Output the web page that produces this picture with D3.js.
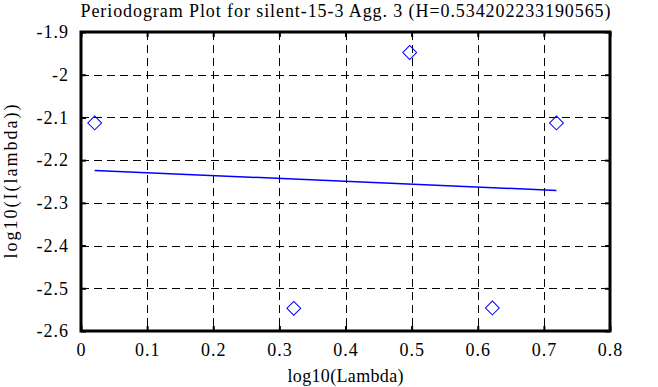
<!DOCTYPE html>
<html><head><meta charset="utf-8">
<script src="https://cdn.jsdelivr.net/npm/d3@7"></script>
<style>
body{margin:0;background:#fff;}
svg text{font-family:"Liberation Serif","Times New Roman",serif !important;fill:#000;}
</style></head>
<body><svg id="c" width="658" height="387"></svg>
<script>
const title = "Periodogram Plot for silent-15-3 Agg. 3 (H=0.534202233190565)";
const xLabel = "log10(Lambda)";
const yLabel = "log10(I(lambda))";
const pointX = [0.0207, 0.3218, 0.4971, 0.6221, 0.7190];
const pointY = [-2.113, -2.547, -1.948, -2.546, -2.113];
const fitX = [0.0207, 0.7190];
const fitY = [-2.224, -2.271];
const xTicks = [0, 0.1, 0.2, 0.3, 0.4, 0.5, 0.6, 0.7, 0.8];
const yTicks = [-1.9, -2, -2.1, -2.2, -2.3, -2.4, -2.5, -2.6];

const svg = d3.select("#c");
const L = 81, R = 610, T = 32, B = 331;
const x = d3.scaleLinear().domain([0, 0.8]).range([L, R]);
const y = d3.scaleLinear().domain([-2.6, -1.9]).range([B, T]);

// grid
const g = svg.append("g");
g.selectAll("line.gx").data(xTicks.slice(1, -1)).enter().append("line")
  .attr("x1", d => Math.round(x(d)) + 0.5).attr("x2", d => Math.round(x(d)) + 0.5)
  .attr("y1", T).attr("y2", B).attr("stroke", "#000").attr("stroke-dasharray", "8,5");
g.selectAll("line.gy").data(yTicks.slice(1, -1)).enter().append("line")
  .attr("y1", d => Math.round(y(d)) + 0.5).attr("y2", d => Math.round(y(d)) + 0.5)
  .attr("x1", L).attr("x2", R).attr("stroke", "#000").attr("stroke-dasharray", "8,5");

// axes with inward ticks
const fmt = d => String(+d.toFixed(1));
const ax = svg.append("g").attr("transform", `translate(0,${B})`)
  .call(d3.axisBottom(x).tickValues(xTicks).tickSizeInner(-5).tickSizeOuter(0).tickPadding(12).tickFormat(fmt));
const axT = svg.append("g").attr("transform", `translate(0,${T})`)
  .call(d3.axisTop(x).tickValues(xTicks).tickSizeInner(-5).tickSizeOuter(0).tickFormat(""));
const ay = svg.append("g").attr("transform", `translate(${L},0)`)
  .call(d3.axisLeft(y).tickValues(yTicks).tickSizeInner(-5).tickSizeOuter(0).tickPadding(12).tickFormat(fmt));
const ayR = svg.append("g").attr("transform", `translate(${R},0)`)
  .call(d3.axisRight(y).tickValues(yTicks).tickSizeInner(-5).tickSizeOuter(0).tickFormat(""));
[ax, axT, ay, ayR].forEach(a => {
  a.attr("font-family", "Liberation Serif").attr("font-size", 18);
  a.select(".domain").remove();
  a.selectAll(".tick line").attr("stroke", "#000").attr("stroke-width", 2);
  a.selectAll("text").style("font-family", "'Liberation Serif', serif").attr("font-size", 18)
    .attr("letter-spacing", 1).attr("fill", "#000");
});
ax.selectAll("text").attr("dy", "0.71em");

// frame
svg.append("rect").attr("x", L).attr("y", T).attr("width", R - L).attr("height", B - T)
  .attr("fill", "none").attr("stroke", "#000").attr("stroke-width", 3);

// fit line
svg.append("line").attr("x1", x(fitX[0])).attr("y1", y(fitY[0]))
  .attr("x2", x(fitX[1])).attr("y2", y(fitY[1])).attr("stroke", "#0000ff").attr("stroke-width", 1.5);

// points
const sym = d3.symbol().type(d3.symbolSquare).size(96);
svg.selectAll("path.pt").data(pointX.map((v, i) => [v, pointY[i]])).enter().append("path")
  .attr("d", sym).attr("transform", d => `translate(${x(d[0])},${y(d[1])}) rotate(45)`)
  .attr("fill", "none").attr("stroke", "#0000ff").attr("stroke-width", 1);

// labels
svg.append("text").attr("x", (L + R) / 2).attr("y", 17).attr("text-anchor", "middle")
  .attr("font-size", 18).attr("textLength", 530).attr("lengthAdjust", "spacing").text(title);
svg.append("text").attr("x", (L + R) / 2).attr("y", 382).attr("text-anchor", "middle")
  .attr("font-size", 18).attr("textLength", 116).attr("lengthAdjust", "spacing").text(xLabel);
svg.append("text").attr("transform", `translate(17,${(T + B) / 2}) rotate(-90)`).attr("text-anchor", "middle")
  .attr("font-size", 18).attr("textLength", 154).attr("lengthAdjust", "spacing").text(yLabel);
</script></body></html>
